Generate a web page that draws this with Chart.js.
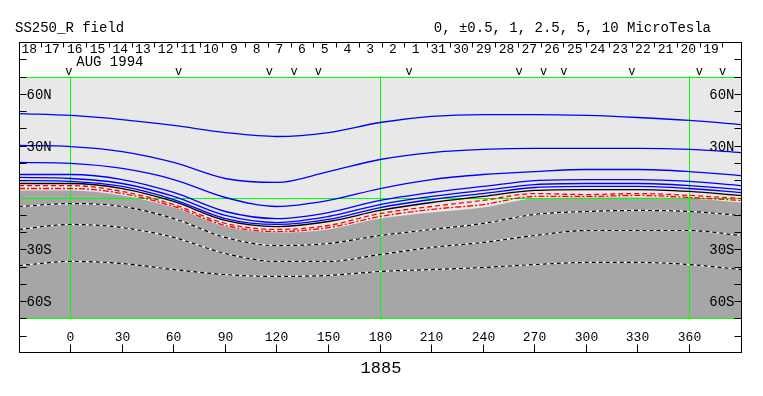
<!DOCTYPE html>
<html><head><meta charset="utf-8">
<script src="https://cdn.jsdelivr.net/npm/chart.js@4/dist/chart.umd.min.js"></script>
<style>html,body{margin:0;padding:0;background:#fff;}canvas{display:block;}</style>
</head><body>
<canvas id="c" width="763" height="396"></canvas>
<script>
// ---- data (longitude in degrees, latitude in degrees) ----
const longitudes = [-30, 0, 30, 60, 90, 120, 150, 180, 210, 240, 270, 300, 330, 360, 390];
const blue1 = [48.6, 47.5, 45.1, 41.7, 37.6, 35.3, 37.6, 43.4, 46.9, 48.0, 48.0, 47.5, 46.3, 44.6, 42.2];
const blue2 = [30.1, 29.5, 26.6, 20.3, 11.0, 8.7, 15.0, 22.0, 26.0, 27.8, 28.4, 28.4, 28.4, 27.8, 26.0];
const blue3 = [20.3, 19.7, 16.8, 10.4, 0.0, -5.2, -1.7, 5.2, 10.4, 13.3, 15.0, 16.2, 16.2, 15.0, 12.7];
const blue4 = [13.3, 13.3, 10.4, 2.9, -8.1, -12.2, -8.7, -1.7, 2.9, 6.4, 9.8, 10.4, 10.4, 9.3, 6.9];
const blue5 = [11.6, 11.0, 8.1, 0.6, -10.4, -14.5, -11.0, -4.1, 0.6, 4.1, 7.5, 8.1, 8.1, 6.9, 4.6];
const blue6 = [9.8, 9.3, 6.4, -1.2, -12.2, -15.6, -12.7, -5.8, -1.2, 2.3, 5.8, 6.4, 6.4, 5.2, 2.9];
const black1 = [8.1, 8.1, 5.2, -2.3, -13.3, -16.8, -13.9, -7.5, -2.9, 0.6, 4.1, 4.6, 4.6, 3.5, 1.2];
const red1 = [6.9, 6.9, 3.5, -4.1, -15.0, -18.5, -16.2, -9.3, -5.2, -1.7, 2.3, 1.7, 2.3, 1.2, -0.6];
const red2 = [5.2, 5.2, 2.3, -5.2, -16.2, -19.7, -17.4, -11.0, -6.9, -4.1, 0.6, 0.6, 1.2, 0.0, -1.7];
const neutral = [4.1, 4.1, 1.2, -5.8, -16.8, -20.3, -18.5, -12.2, -8.7, -5.8, -0.6, 0.0, 0.0, -0.6, -2.9];
const neg1 = [-5.2, -3.5, -5.2, -12.2, -23.1, -27.8, -26.6, -22.0, -18.5, -15.0, -9.8, -8.1, -7.5, -8.1, -10.4];
const neg2 = [-18.5, -15.6, -17.4, -23.1, -32.4, -37.0, -37.0, -33.0, -28.9, -26.0, -22.0, -19.1, -19.1, -19.1, -22.0];
const neg3 = [-39.4, -37.0, -38.2, -41.7, -44.6, -45.7, -45.1, -42.8, -41.7, -40.5, -38.8, -37.6, -37.6, -38.8, -41.7];

const xTickValues = [0, 30, 60, 90, 120, 150, 180, 210, 240, 270, 300, 330, 360];
const yTickValues = [80, 70, 60, 50, 40, 30, 20, 10, -10, -20, -30, -40, -50, -60, -70, -80];
const yTickLabels = {60: '60N', 30: '30N', '-30': '30S', '-60': '60S'};
const greenLons = [0, 180, 360];
const greenLats = [70, 0, -70];
const dayLabels = ['18','17','16','15','14','13','12','11','10','9','8','7','6','5','4','3','2','1',
                   '31','30','29','28','27','26','25','24','23','22','21','20','19'];
const dayFirstBoundaryLon = -17.4;   // longitude of boundary after first day label
const dayStepLon = 13.22;            // degrees per day
const markerLons = [-1.0, 62.9, 115.7, 130.1, 144.2, 197.0, 260.9, 275.2, 287.0, 326.5, 365.8, 379.3];
const titleLeft = 'SS250_R field';
const titleRight = '0, \u00B10.5, 1, 2.5, 5, 10 MicroTesla';
const monthLabel = 'AUG 1994';
const rotationLabel = '1885';

// ---- build datasets ----
const pts = arr => longitudes.map((lon, i) => ({x: lon, y: arr[i]}));
const LIGHT = '#e8e8e8', DARK = '#a6a6a6', GREEN = '#00ff00', BLUE = '#0000ff', RED = '#ff0000';

const datasets = [];
datasets.push({data: pts(neutral), fill: {value: -70}, backgroundColor: DARK, borderColor: DARK, borderWidth: 0, order: 100});
[blue1, blue2, blue3, blue4, blue5, blue6].forEach(b => datasets.push({data: pts(b), borderColor: BLUE, borderWidth: 1.3, fill: false, order: 10}));
datasets.push({data: pts(black1), borderColor: '#000', borderWidth: 1.3, fill: false, order: 10});
datasets.push({data: pts(red1), borderColor: RED, borderWidth: 1.3, borderDash: [5, 3], fill: false, order: 10});
datasets.push({data: pts(red2), borderColor: RED, borderWidth: 1.3, borderDash: [6, 2, 2, 2], fill: false, order: 10});
[neg1, neg2, neg3].forEach(n => {
  datasets.push({data: pts(n), borderColor: '#fff', borderWidth: 1.2, fill: false, order: 20});
  datasets.push({data: pts(n), borderColor: '#000', borderWidth: 1.2, borderDash: [4, 3], fill: false, order: 15});
});

const frame = {
  id: 'frame',
  beforeDatasetsDraw(chart) {
    const {ctx, chartArea: a, scales: {x, y}} = chart;
    ctx.save();
    ctx.fillStyle = LIGHT;
    const t = y.getPixelForValue(70), b = y.getPixelForValue(-70);
    ctx.fillRect(a.left, t, a.right - a.left, b - t);
    ctx.restore();
  },
  afterDatasetDraw(chart, args) {
    if (args.index !== 0) return;
    const {ctx, chartArea: a, scales: {x, y}} = chart;
    ctx.save();
    ctx.strokeStyle = GREEN;
    ctx.lineWidth = 1;
    const t = y.getPixelForValue(70), b = y.getPixelForValue(-70);
    ctx.beginPath();
    greenLats.forEach(lat => {
      const py = Math.round(y.getPixelForValue(lat)) + 0.5;
      ctx.moveTo(a.left, py); ctx.lineTo(a.right, py);
    });
    greenLons.forEach(lon => {
      const px = Math.floor(x.getPixelForValue(lon)) + 0.5;
      ctx.moveTo(px, t); ctx.lineTo(px, b);
    });
    ctx.stroke();
    ctx.restore();
  },
  afterDatasetsDraw(chart) {
    const {ctx, chartArea: a, scales: {x, y}} = chart;
    ctx.save();
    ctx.strokeStyle = '#000';
    ctx.lineWidth = 1;
    const L = Math.round(a.left) + 0.5, R = Math.round(a.right) + 0.5;
    const T = Math.round(a.top) + 0.5, B = Math.round(a.bottom) - 0.5;
    ctx.strokeRect(L, T, R - L, B - T);
    // y ticks (both sides, inward)
    ctx.font = '14px "Liberation Mono", "DejaVu Sans Mono", monospace';
    ctx.fillStyle = '#000';
    ctx.textBaseline = 'middle';
    yTickValues.forEach(v => {
      const py = Math.round(y.getPixelForValue(v)) + 0.5;
      ctx.beginPath();
      ctx.moveTo(L, py); ctx.lineTo(L + 7, py);
      ctx.moveTo(R, py); ctx.lineTo(R - 7, py);
      ctx.stroke();
      const lab = yTickLabels[v];
      if (lab) {
        ctx.textAlign = 'left'; ctx.fillText(lab, L + 7, py + 1);
        ctx.textAlign = 'right'; ctx.fillText(lab, R - 7, py + 1);
      }
    });
    // x ticks (bottom, inward)
    ctx.font = '13px "Liberation Mono", "DejaVu Sans Mono", monospace';
    ctx.textAlign = 'center';
    xTickValues.forEach(v => {
      const px = Math.floor(x.getPixelForValue(v)) + 0.5;
      ctx.beginPath();
      ctx.moveTo(px, B); ctx.lineTo(px, B - 8);
      ctx.stroke();
      ctx.fillText(String(v), px, B - 15);
    });
    // day strip
    ctx.font = '13px "Liberation Mono", "DejaVu Sans Mono", monospace';
    dayLabels.forEach((d, k) => {
      const sepLon = dayFirstBoundaryLon + k * dayStepLon;
      const sx = Math.round(x.getPixelForValue(sepLon)) + 0.5;
      ctx.beginPath(); ctx.moveTo(sx, T); ctx.lineTo(sx, T + 5); ctx.stroke();
      const cx = x.getPixelForValue(sepLon - dayStepLon / 2);
      ctx.fillText(d, cx, T + 7);
    });
    // month label
    ctx.font = '14px "Liberation Mono", "DejaVu Sans Mono", monospace';
    ctx.textAlign = 'left';
    ctx.fillText(monthLabel, x.getPixelForValue(3.3), T + 20);
    // markers
    ctx.font = '12px "Liberation Mono", "DejaVu Sans Mono", monospace';
    ctx.textAlign = 'center';
    ctx.textBaseline = 'bottom';
    markerLons.forEach(lon => ctx.fillText('v', x.getPixelForValue(lon), y.getPixelForValue(70) + 1));
    // titles
    ctx.textBaseline = 'alphabetic';
    ctx.font = '14px "Liberation Mono", "DejaVu Sans Mono", monospace';
    ctx.textAlign = 'left';
    ctx.fillText(titleLeft, 15, 32);
    ctx.textAlign = 'right';
    ctx.fillText(titleRight, 711, 32);
    ctx.font = '17px "Liberation Mono", "DejaVu Sans Mono", monospace';
    ctx.textAlign = 'center';
    ctx.fillText(rotationLabel, x.getPixelForValue(180) + 1, 373);
    ctx.restore();
  }
};

new Chart(document.getElementById('c').getContext('2d'), {
  type: 'line',
  data: {datasets},
  options: {
    responsive: false, animation: false, devicePixelRatio: 1,
    layout: {padding: {left: 19, right: 22, top: 42, bottom: 43}},
    plugins: {legend: {display: false}, tooltip: {enabled: false}, title: {display: false}},
    elements: {point: {radius: 0}, line: {cubicInterpolationMode: 'monotone'}},
    scales: {
      x: {type: 'linear', min: -30, max: 390, display: false},
      y: {type: 'linear', min: -90, max: 90, display: false}
    }
  },
  plugins: [frame]
});
</script>
</body></html>
